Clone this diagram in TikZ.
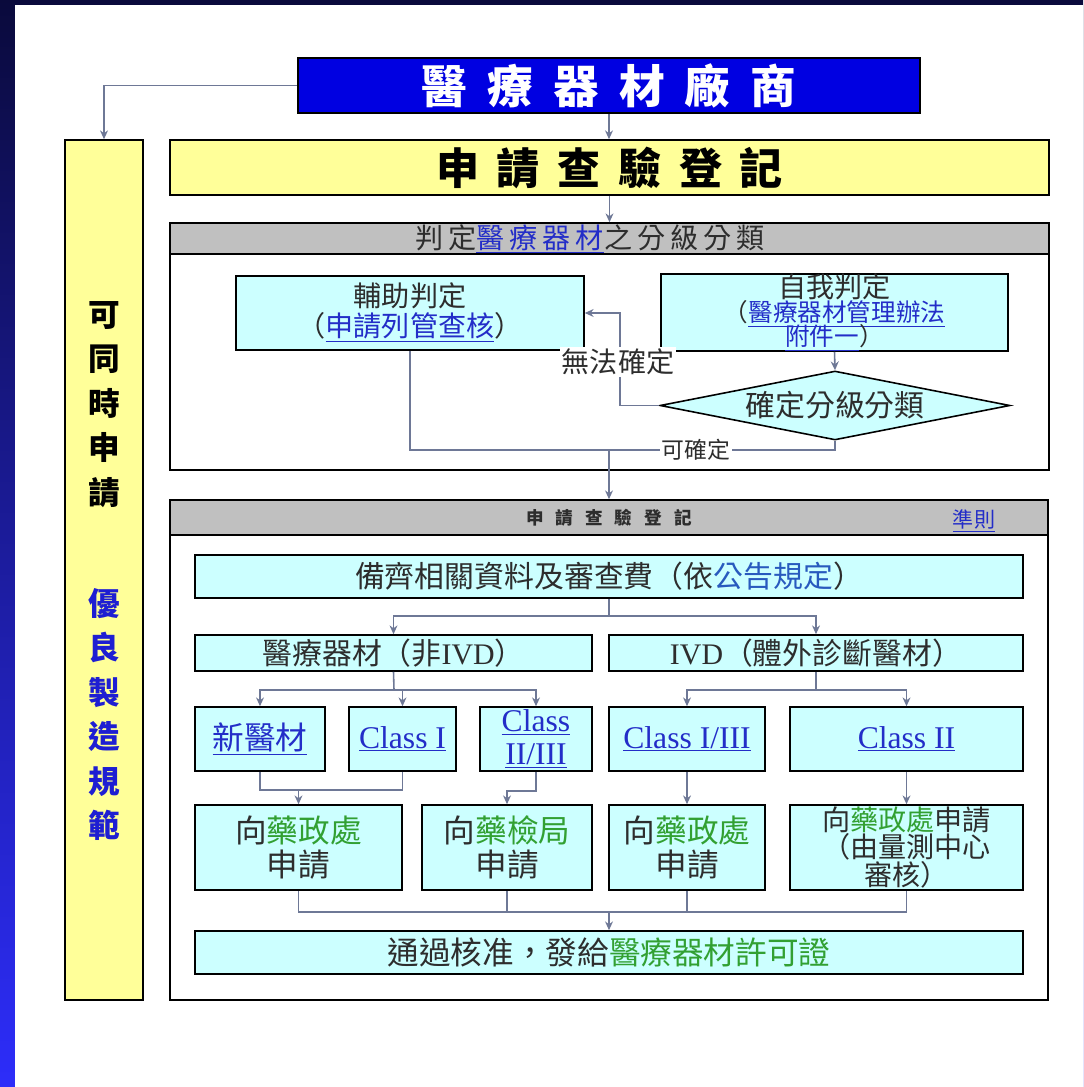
\documentclass[tikz,border=0pt]{standalone}
\usepackage{fontspec}
\setmainfont{Noto Sans CJK TC}
\newfontfamily\tnr{Liberation Serif}
\usetikzlibrary{arrows.meta,shapes.geometric}
\definecolor{navyA}{RGB}{10,10,60}
\definecolor{navyB}{RGB}{45,45,250}
\definecolor{titleblue}{RGB}{0,0,225}
\definecolor{paleyellow}{RGB}{255,255,153}
\definecolor{hdrgray}{RGB}{192,192,192}
\definecolor{palecyan}{RGB}{204,255,255}
\definecolor{linecol}{RGB}{110,120,150}
\definecolor{greentxt}{RGB}{50,160,50}
\definecolor{linkblue}{RGB}{35,45,200}
\definecolor{noteblue}{RGB}{40,90,190}
\definecolor{gmpblue}{RGB}{30,30,210}
\definecolor{txtgray}{RGB}{45,45,45}
\newcommand\fs[2]{\fontsize{#1}{#2}\selectfont}
\newcommand\tightls{\lineskiplimit=-30pt\relax}
\newcommand\lnk[1]{\textcolor{linkblue}{\underline{#1}}}
\newcommand\grn[1]{\textcolor{greentxt}{#1}}
\begin{document}
\begin{tikzpicture}[x=0.02cm,y=-0.02cm,
  frame/.style={draw=black, line width=0.9pt, inner sep=0pt},
  pbox/.style n args={4}{minimum width={(#3-#1)*0.02cm}, minimum height={(#4-#2)*0.02cm},
     at={({(#1+#3)/2},{(#2+#4)/2})}},
  box/.style={frame, fill=palecyan, align=center, text=txtgray},
  conn/.style={draw=linecol, line width=0.9pt},
  arr/.style={conn, -{Stealth[length=5pt,width=4.5pt]}},
  lbl/.style={fill=white, inner sep=1pt, text=txtgray}]
\useasboundingbox (0,0) rectangle (1083,1087);
\shade[top color=navyA, bottom color=navyB] (0,0) rectangle (1083,1087);
\fill[white] (15,5) rectangle (1083,1087);

% top boxes
\node[frame, fill=titleblue, text=white, font={\fs{26}{30}\bfseries}, pbox={298}{58}{920}{113}] (maker)
  {\addfontfeatures{LetterSpace=44}醫療器材廠商\hspace{-0.44em}};
\node[frame, fill=paleyellow, text=black, font={\fs{24.5}{28}\bfseries}, pbox={170}{140}{1049}{195}] (reg)
  {\addfontfeatures{LetterSpace=41}申請查驗登記\hspace{-0.41em}};
\node[frame, fill=paleyellow, pbox={65}{140}{143}{1000}] (gmp) {};
\node[align=center, font={\fs{18}{25.3}\bfseries}, text=black] (gmptxt) at (104,571)
  {可\\同\\時\\申\\請\\[38pt]\textcolor{gmpblue}{優}\\\textcolor{gmpblue}{良}\\\textcolor{gmpblue}{製}\\\textcolor{gmpblue}{造}\\\textcolor{gmpblue}{規}\\\textcolor{gmpblue}{範}};

% panel 1
\node[frame, fill=white, pbox={170}{254}{1049}{470}] (pan1) {};
\node[frame, fill=hdrgray, pbox={170}{223}{1049}{254}] (hdr1) {};
\node[font={\fs{16}{20}}, text=txtgray] (hdr1txt) at (590,239)
  {\addfontfeatures{LetterSpace=18}判定\lnk{醫療器材}之分級分類};
\node[box, font={\fs{16}{17}}, pbox={236}{276}{584}{350}] (aux)
  {輔助判定\\（\lnk{申請列管查核}）};
\node[box, font={\fs{14}{13.6}\tightls}, pbox={661}{275}{1008}{350}] (self)
  {{\fs{16}{16}自我判定}\\（\lnk{醫療器材管理辦法}\\\lnk{附件一}）};
\node[frame, fill=palecyan, diamond, aspect=5.07, minimum width=7cm, minimum height=1.38cm,
  font={\fs{17}{18}}, text=txtgray] (dia) at (835,405.5) {確定分級分類};

% panel 2
\node[frame, fill=white, pbox={170}{535}{1048}{1000}] (pan2) {};
\node[frame, fill=hdrgray, pbox={170}{500}{1048}{535}] (hdr2) {};
\node[font={\fs{10}{12}\bfseries}, text=txtgray] (hdr2txt) at (609,518)
  {\addfontfeatures{LetterSpace=68}申請查驗登記\hspace{-0.68em}};
\node[font={\fs{12}{14}}] (rulelink) at (974,521) {\lnk{準則}};

\node[box, font={\fs{17}{20}}, pbox={195}{555}{1023}{598}] (prep)
  {備齊相關資料及審查費（依\textcolor{noteblue}{公告規定}）};
\node[box, font={\fs{17}{20}}, pbox={195}{635}{592}{671}] (nonivd)
  {醫療器材（非{\tnr IVD}）};
\node[box, font={\fs{17}{20}}, pbox={609}{635}{1023}{671}] (ivd)
  {{\tnr IVD}（體外診斷醫材）};

\node[box, font={\fs{18}{20}}, pbox={195}{707}{325}{771}] (newdev) {\lnk{新醫材}};
\node[box, font={\fs{18}{15}\tnr}, pbox={349}{707}{456}{771}] (c1) {\lnk{Class I}};
\node[box, font={\fs{18}{18.5}\tnr}, pbox={480}{707}{592}{771}] (c23) {\lnk{Class}\\\lnk{II/III}};
\node[box, font={\fs{18}{15}\tnr}, pbox={609}{707}{765}{771}] (c13) {\lnk{Class I/III}};
\node[box, font={\fs{18}{15}\tnr}, pbox={790}{707}{1023}{771}] (c2) {\lnk{Class II}};

\node[box, font={\fs{18}{19}\tightls}, pbox={195}{805}{402}{890}] (fda1) {向\grn{藥政處}\\申請};
\node[box, font={\fs{18}{19}\tightls}, pbox={422}{805}{592}{890}] (fdb) {向\grn{藥檢局}\\申請};
\node[box, font={\fs{18}{19}\tightls}, pbox={609}{805}{765}{890}] (fda2) {向\grn{藥政處}\\申請};
\node[box, font={\fs{16}{15.8}\tightls}, pbox={790}{805}{1023}{890}] (fda3)
  {向\grn{藥政處}申請\\（由量測中心\\審核）};

\node[box, font={\fs{18}{20}}, pbox={195}{931}{1023}{974}] (final)
  {通過核准，發給\grn{醫療器材許可證}};

% connectors top
\draw[arr] (maker.south) -- (maker.south |- reg.north);
\draw[arr] (maker.west) -| (gmp.north);
\draw[arr] (reg.south) -- (reg.south |- hdr1.north);

% panel 1 connectors
\draw[arr] (self.south) -- (dia.north);
\draw[arr] (dia.west) -- ++(-39,0) |- (aux.east);
\node[lbl, font={\fs{16}{18}}] (nflbl) at (618,362) {無法確定};
\coordinate (j1) at (609,450);
\draw[conn] (aux.south) |- (j1);
\draw[conn] (dia.south) |- (j1);
\draw[arr] (j1) -- (j1 |- hdr2.north);
\node[lbl, font={\fs{13}{15}}] (oklbl) at (696,450) {可確定};

% panel 2 connectors
\coordinate (j2) at (609,616);
\draw[conn] (prep.south) -- (prep.south |- j2);
\draw[arr] (j2) -| (nonivd.north);
\draw[arr] (j2) -| (ivd.north);

\coordinate (j3) at (394,690);
\draw[conn] (nonivd.south) -- (j3);
\draw[arr] (j3) -| (newdev.north);
\draw[arr] (j3) -| (c1.north);
\draw[arr] (j3) -| (c23.north);

\coordinate (j4) at (816,690);
\draw[conn] (ivd.south) -- (j4);
\draw[arr] (j4) -| (c13.north);
\draw[arr] (j4) -| (c2.north);

\coordinate (j5) at (298.5,790);
\draw[conn] (newdev.south) |- (c1.south |- j5) -- (c1.south);
\draw[arr] (j5) -- (fda1.north);
\draw[arr] (c23.south) -- ++(0,19) -| (fdb.north);
\draw[arr] (c13.south) -- (fda2.north);
\draw[arr] (c2.south) -- (fda3.north);

\coordinate (j6) at (609,912);
\draw[conn] (fda1.south) |- (fda3.south |- j6) -- (fda3.south);
\draw[conn] (fdb.south) -- (fdb.south |- j6);
\draw[conn] (fda2.south) -- (fda2.south |- j6);
\draw[arr] (j6) -- (final.north);
\end{tikzpicture}
\end{document}
